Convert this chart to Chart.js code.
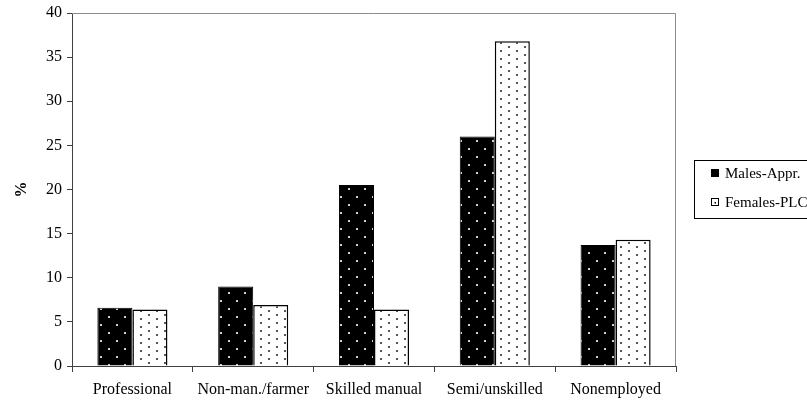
<!DOCTYPE html>
<html>
<head>
<meta charset="utf-8">
<script src="https://cdn.jsdelivr.net/npm/chart.js@4"></script>
<style>
  html, body { margin: 0; padding: 0; background: #fff; }
  #wrap { width: 807px; height: 405px; position: relative; }
</style>
</head>
<body>
<div id="wrap"><canvas id="myChart" width="807" height="405"></canvas></div>
<script>
// categories and values
const categories = ['Professional', 'Non-man./farmer', 'Skilled manual', 'Semi/unskilled', 'Nonemployed'];
const seriesNames = ['Males-Appr.', 'Females-PLC'];
const males = [6.6, 9.0, 20.5, 26.0, 13.7];
const females = [6.4, 6.9, 6.4, 36.8, 14.3];
const yTicks = [0, 5, 10, 15, 20, 25, 30, 35, 40];

const FONT = 'Liberation Serif';

// dotted fills like the old excel patterns
function makePattern(bg, dot, w, h, dots) {
    const c = document.createElement('canvas');
    c.width = w;
    c.height = h;
    const g = c.getContext('2d');
    g.fillStyle = bg;
    g.fillRect(0, 0, w, h);
    g.fillStyle = dot;
    dots.forEach(d => g.fillRect(d[0], d[1], 2, 2));
    return g.createPattern(c, 'repeat');
}

const darkFill = makePattern('#000', '#d0d0d0', 16, 16, [[4, 4], [12, 12]]);
const lightFill = makePattern('#fff', '#555', 16, 8, [[4, 2], [12, 6]]);

// gray frame on top / right of the plot
const frame = {
    id: 'frame',
    beforeDatasetsDraw(chart) {
        const a = chart.chartArea;
        const ctx = chart.ctx;
        ctx.save();
        ctx.strokeStyle = '#8c8c8c';
        ctx.lineWidth = 1;
        ctx.beginPath();
        ctx.moveTo(a.left, a.top + 0.5);
        ctx.lineTo(a.right - 0.5, a.top + 0.5);
        ctx.lineTo(a.right - 0.5, a.bottom);
        ctx.stroke();
        ctx.restore();
    }
};

// boxed legend at the right side
const boxLegend = {
    id: 'boxLegend',
    afterDraw(chart) {
        const ctx = chart.ctx;
        const x = 694, y = 160;
        ctx.save();
        ctx.strokeStyle = '#000';
        ctx.lineWidth = 1;
        ctx.strokeRect(x + 0.5, y + 0.5, 130, 58);
        ctx.font = '15px ' + FONT;
        ctx.textBaseline = 'middle';
        chart.data.datasets.forEach((ds, i) => {
            const cy = y + 13 + i * 29;
            if (i === 0) {
                ctx.fillStyle = '#000';
                ctx.fillRect(x + 17, cy - 4, 8, 8);
            } else {
                ctx.fillStyle = '#fff';
                ctx.fillRect(x + 17, cy - 4, 8, 8);
                ctx.strokeRect(x + 17.5, cy - 3.5, 7, 7);
                ctx.fillStyle = '#000';
                ctx.fillRect(x + 20.5, cy, 1.5, 1.5);
            }
            ctx.fillStyle = '#000';
            ctx.fillText(ds.label, x + 31, cy + 1);
        });
        ctx.restore();
    }
};

const ctx = document.getElementById('myChart').getContext('2d');
new Chart(ctx, {
    type: 'bar',
    data: {
        labels: categories,
        datasets: [{
            label: seriesNames[0],
            data: males,
            backgroundColor: darkFill,
            borderColor: '#000',
            borderWidth: 1
        }, {
            label: seriesNames[1],
            data: females,
            backgroundColor: lightFill,
            borderColor: '#000',
            borderWidth: 1.5
        }]
    },
    options: {
        responsive: false,
        animation: false,
        layout: { padding: { top: 12, right: 131, bottom: 0, left: 0 } },
        plugins: {
            legend: { display: false },
            tooltip: { enabled: false }
        },
        datasets: {
            bar: { categoryPercentage: 0.58, barPercentage: 1 }
        },
        scales: {
            x: {
                grid: { offset: true, drawOnChartArea: false, drawTicks: true, tickLength: 6, color: '#404040' },
                border: { color: '#404040', width: 1 },
                ticks: { color: '#000', font: { family: FONT, size: 16 }, padding: 8, maxRotation: 0, autoSkip: false },
                afterFit(scale) { scale.height = 39; }
            },
            y: {
                min: 0,
                max: 40,
                afterBuildTicks(scale) { scale.ticks = yTicks.map(v => ({ value: v })); },
                grid: { drawOnChartArea: false, drawTicks: true, tickLength: 5, color: '#404040' },
                border: { color: '#404040', width: 1 },
                ticks: { color: '#000', font: { family: FONT, size: 16, lineHeight: 1 }, padding: 5 },
                title: { display: true, text: '%', color: '#000', font: { family: FONT, size: 16, weight: 'bold' }, padding: { top: 12, bottom: 0 } },
                afterFit(scale) { scale.width = 72; }
            }
        }
    },
    plugins: [frame, boxLegend]
});
</script>
</body>
</html>
